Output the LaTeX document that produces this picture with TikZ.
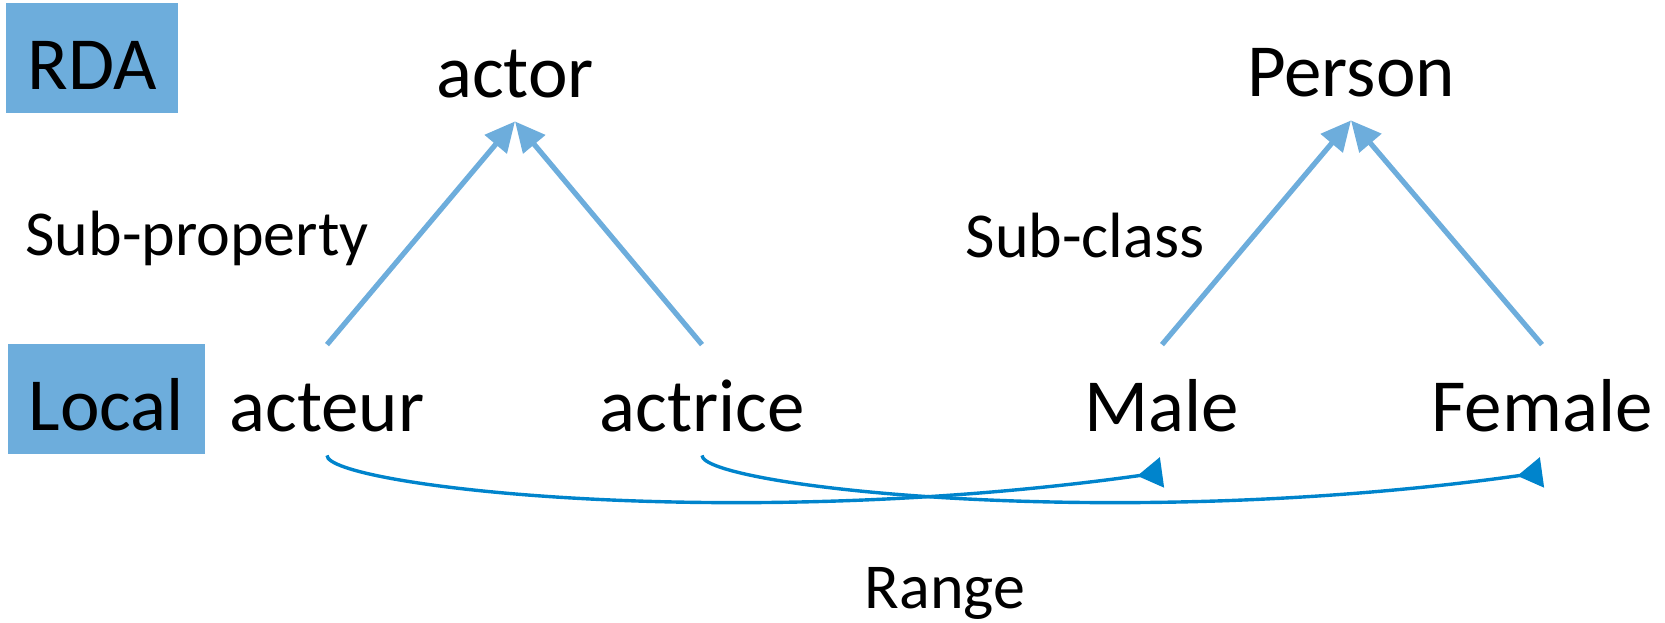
\documentclass[tikz,border=0pt]{standalone}
\usepackage{fontspec}
\setmainfont{Carlito}
\usetikzlibrary{arrows.meta,positioning}
\definecolor{rdablue}{HTML}{6DADDC}
\definecolor{rangeblue}{HTML}{0084CC}

\begin{document}
\begin{tikzpicture}[x=0.5pt,y=-0.5pt,
  term/.style={inner sep=0pt,text height=43pt,text depth=12pt,font=\fontsize{37.5pt}{40pt}\selectfont},
  tag/.style={term,fill=rdablue,inner xsep=10.5pt},
  lbl/.style={inner sep=0pt,font=\fontsize{32pt}{35pt}\selectfont},
  isa/.style={-{Triangle[length=15pt,width=14pt]},line width=2.6pt,rdablue},
  rng/.style={-{Triangle[reversed,length=12.5pt,width=15pt]},line width=1.7pt,rangeblue}]
\useasboundingbox (0,0) rectangle (1665,622);

% level tags
\node[tag,anchor=base] (rda) at (92,89) {RDA};
\node[tag,anchor=base] (local) at (106.5,430) {Local};

% RDA terms
\node[term,anchor=base] (actor) at (515,97) {actor};
\node[term,anchor=base] (person) at (1351,96) {Person};

% local terms
\node[term,anchor=base] (acteur) at (327,431) {acteur};
\node[term,anchor=base] (actrice) at (702,431) {actrice};
\node[term,anchor=base] (male) at (1162,431) {Male};
\node[term,anchor=base] (female) at (1542,431) {Female};

% relation labels
\node[lbl,anchor=base] (subprop) at (197,255) {Sub-property};
\node[lbl,anchor=base] (subcls) at (1085,257) {Sub-class};
\node[lbl,anchor=base] (range) at (945,608) {Range};

\draw[isa] (acteur.north) -- (actor.south);
\draw[isa] (actrice.north) -- (actor.south);
\draw[isa] (male.north) -- (person.south);
\draw[isa] (female.north) -- (person.south);

\draw[rng] (acteur.south) .. controls +(0,30) and +(-435,61) .. ([yshift=-8.5pt]male.south);
\draw[rng] (actrice.south) .. controls +(0,30) and +(-435,61) .. ([yshift=-8.5pt]female.south);
\end{tikzpicture}
\end{document}
